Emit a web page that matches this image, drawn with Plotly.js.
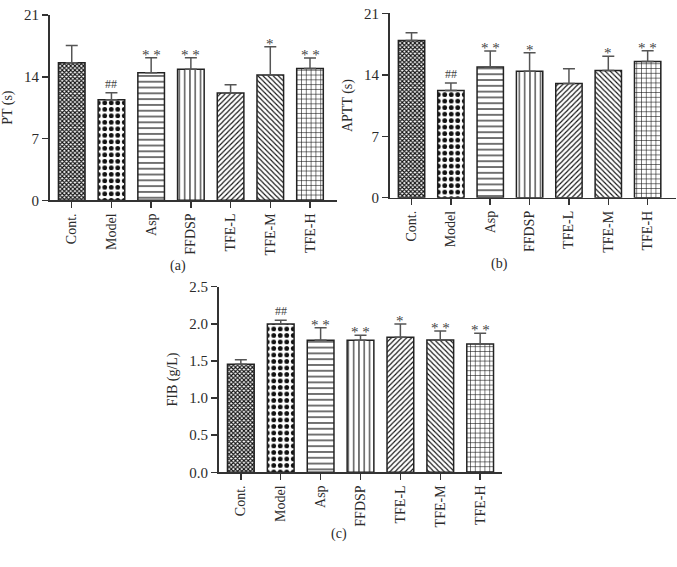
<!DOCTYPE html>
<html>
<head>
<meta charset="utf-8">
<script src="https://cdn.plot.ly/plotly-3.0.1.min.js"></script>
<style>html,body{margin:0;padding:0;background:#fff;}#chart{width:677px;height:567px;}</style>
</head>
<body>
<div id="chart"></div>
<script>
const categories = ['Cont.', 'Model', 'Asp', 'FFDSP', 'TFE-L', 'TFE-M', 'TFE-H'];

const ptValues = [15.6, 11.4, 14.45, 14.85, 12.15, 14.2, 14.95];
const ptErrors = [1.95, 0.8, 1.72, 1.3, 0.95, 3.2, 1.18];
const ptMarks = ['', '##', '* *', '* *', '', '*', '* *'];

const apttValues = [17.9, 12.2, 14.9, 14.4, 13.0, 14.5, 15.5];
const apttErrors = [0.9, 0.85, 1.8, 2.1, 1.7, 1.6, 1.25];
const apttMarks = ['', '##', '* *', '*', '', '*', '* *'];

const fibValues = [1.455, 1.997, 1.777, 1.777, 1.818, 1.782, 1.728];
const fibErrors = [0.06, 0.05, 0.17, 0.07, 0.18, 0.12, 0.145];
const fibMarks = ['', '##', '* *', '* *', '*', '* *', '* *'];

const ptTicks = [0, 7, 14, 21];
const apttTicks = [0, 7, 14, 21];
const fibTicks = [0, 0.5, 1.0, 1.5, 2.0, 2.5];

// pattern styles per category
const patterns = [
  {shape: 'x', size: 3, solidity: 0.6},
  {shape: '.', size: 6.5, solidity: 0.42},
  {shape: '-', size: 5.8, solidity: 0.2},
  {shape: '|', size: 5.3, solidity: 0.2},
  {shape: '/', size: 3.6, solidity: 0.32},
  {shape: '\\', size: 3.6, solidity: 0.32},
  {shape: '+', size: 4.8, solidity: 0.22}
];

const FONT = 'Liberation Serif';
const TEXT = '#2b2b2b';
const LINE = '#333';

function makeTraces(values, errors, xa, ya) {
  return categories.map((c, i) => ({
    type: 'bar',
    x: [c],
    y: [values[i]],
    xaxis: xa,
    yaxis: ya,
    width: 0.67,
    marker: {
      color: '#fff',
      line: {color: '#222', width: 1.5},
      pattern: {shape: patterns[i].shape, size: patterns[i].size, solidity: patterns[i].solidity,
                fgcolor: '#111', bgcolor: '#fff', fillmode: 'replace'}
    },
    error_y: {type: 'data', symmetric: false, array: [errors[i]], arrayminus: [0],
              color: '#555', thickness: 1.5, width: 6},
    showlegend: false,
    hoverinfo: 'skip'
  }));
}

function makeMarks(values, errors, marks, xa, ya) {
  const out = [];
  categories.forEach((c, i) => {
    if (!marks[i]) return;
    const isStar = marks[i].indexOf('*') >= 0;
    out.push({
      xref: xa, yref: ya, x: c, y: values[i] + errors[i],
      text: marks[i], showarrow: false, yanchor: 'bottom',
      yshift: isStar ? -7 : 0,
      font: {family: FONT, size: isStar ? 15 : 12, color: '#444'}
    });
  });
  return out;
}

const data = [].concat(
  makeTraces(ptValues, ptErrors, 'x', 'y'),
  makeTraces(apttValues, apttErrors, 'x2', 'y2'),
  makeTraces(fibValues, fibErrors, 'x3', 'y3')
);

function xAxis(domain, range, anchor) {
  return {
    domain: domain, range: range, anchor: anchor, type: 'category',
    showline: true, linecolor: LINE, linewidth: 1.5,
    ticks: 'outside', ticklen: 6, tickwidth: 1.5, tickcolor: LINE,
    tickangle: -90, showgrid: false, zeroline: false,
    tickfont: {family: FONT, size: 14, color: TEXT}, fixedrange: true
  };
}
function yAxis(domain, range, anchor, ticks, title, fmt) {
  return {
    domain: domain, range: range, anchor: anchor,
    tickvals: ticks, tickformat: fmt,
    showline: true, linecolor: LINE, linewidth: 1.5,
    ticks: 'outside', ticklen: 6, tickwidth: 1.5, tickcolor: LINE,
    showgrid: false, zeroline: false,
    tickfont: {family: FONT, size: 15, color: TEXT},
    title: {text: title, font: {family: FONT, size: 14, color: TEXT}, standoff: 8},
    fixedrange: true
  };
}

const layout = {
  width: 677, height: 567,
  margin: {l: 0, r: 0, t: 0, b: 0},
  paper_bgcolor: '#fff', plot_bgcolor: '#fff',
  barmode: 'overlay',
  font: {family: FONT, color: TEXT},
  xaxis: xAxis([49.5 / 677, 337 / 677], [-0.56, 6.68], 'y'),
  yaxis: yAxis([0.6467, 0.9735], [0, 21], 'x', ptTicks, 'PT (s)', 'd'),
  xaxis2: xAxis([389.5 / 677, 0.9985], [-0.56, 6.72], 'y2'),
  yaxis2: yAxis([0.6513, 0.9765], [0, 21], 'x2', apttTicks, 'APTT (s)', 'd'),
  xaxis3: xAxis([218.5 / 677, 501.7 / 677], [-0.56, 6.54], 'y3'),
  yaxis3: yAxis([0.167, 0.4944], [0, 2.5], 'x3', fibTicks, 'FIB (g/L)', '.1f'),
  annotations: [].concat(
    makeMarks(ptValues, ptErrors, ptMarks, 'x', 'y'),
    makeMarks(apttValues, apttErrors, apttMarks, 'x2', 'y2'),
    makeMarks(fibValues, fibErrors, fibMarks, 'x3', 'y3'),
    [
      {xref: 'paper', yref: 'paper', x: 168 / 677, y: 1 - 266 / 567, text: '(a)', showarrow: false,
       font: {family: FONT, size: 14, color: TEXT}},
      {xref: 'paper', yref: 'paper', x: 510 / 677, y: 1 - 264 / 567, text: '(b)', showarrow: false,
       font: {family: FONT, size: 14, color: TEXT}},
      {xref: 'paper', yref: 'paper', x: 339 / 677, y: 1 - 544 / 567, text: '(c)', showarrow: false,
       font: {family: FONT, size: 14, color: TEXT}}
    ]
  )
};

Plotly.newPlot('chart', data, layout, {staticPlot: true, displayModeBar: false});
</script>
</body>
</html>
